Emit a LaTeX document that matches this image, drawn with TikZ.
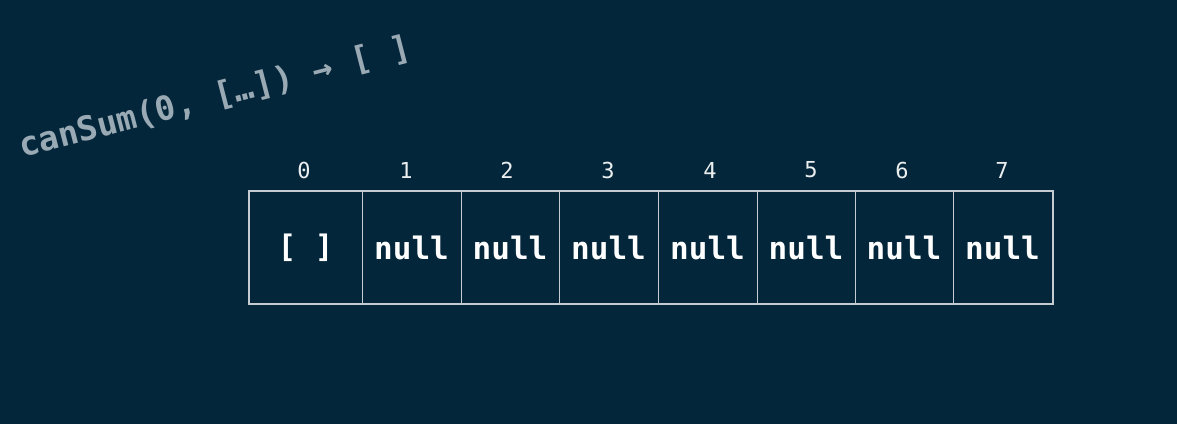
\documentclass[tikz,border=0pt]{standalone}
\usepackage{fontspec}
\setmonofont{DejaVu Sans Mono}
\begin{document}
\begin{tikzpicture}[x=1pt,y=-1pt]
\definecolor{bg}{HTML}{03263A}
\definecolor{grid}{HTML}{C4CBD1}
\definecolor{calltxt}{HTML}{9AAAB5}
\tikzset{
  cell/.style={draw=grid, line width=1pt, minimum height=112pt, inner sep=0pt, text=white, font=\ttfamily\bfseries\fontsize{31}{32}\selectfont},
  idx/.style={text=white!92!bg, font=\ttfamily\fontsize{22}{24}\selectfont, inner sep=0pt},
  calllabel/.style={text=calltxt, font=\ttfamily\bfseries\fontsize{33.5}{35}\selectfont, inner sep=0pt, rotate=14.5, anchor=base west}
}
\fill[bg] (0,0) rectangle (1177,424);
\useasboundingbox (0,0) rectangle (1177,424);
% cells
\node[cell, minimum width=113pt] (c0) at (305.5,247.5) {[ ]};
\node[cell, minimum width=99pt] (c1) at (411.5,247.5) {null};
\node[cell, minimum width=98pt] (c2) at (510,247.5) {null};
\node[cell, minimum width=99pt] (c3) at (608.5,247.5) {null};
\node[cell, minimum width=99pt] (c4) at (707.5,247.5) {null};
\node[cell, minimum width=98pt] (c5) at (806,247.5) {null};
\node[cell, minimum width=98pt] (c6) at (904,247.5) {null};
\node[cell, minimum width=99pt] (c7) at (1002.5,247.5) {null};
\draw[grid, line width=2pt] (c0.north west) rectangle (c7.south east);
% indices
\node[idx] (i0) at (304,170) {0};
\node[idx] (i1) at (406,170) {1};
\node[idx] (i2) at (507,170) {2};
\node[idx] (i3) at (608,170) {3};
\node[idx] (i4) at (710,170) {4};
\node[idx] (i5) at (811,170) {5};
\node[idx] (i6) at (902,170) {6};
\node[idx] (i7) at (1002,170) {7};
% call label
\node[calllabel] (call) at (22,158) {canSum(0, […]) → [ ]};
\end{tikzpicture}
\end{document}
